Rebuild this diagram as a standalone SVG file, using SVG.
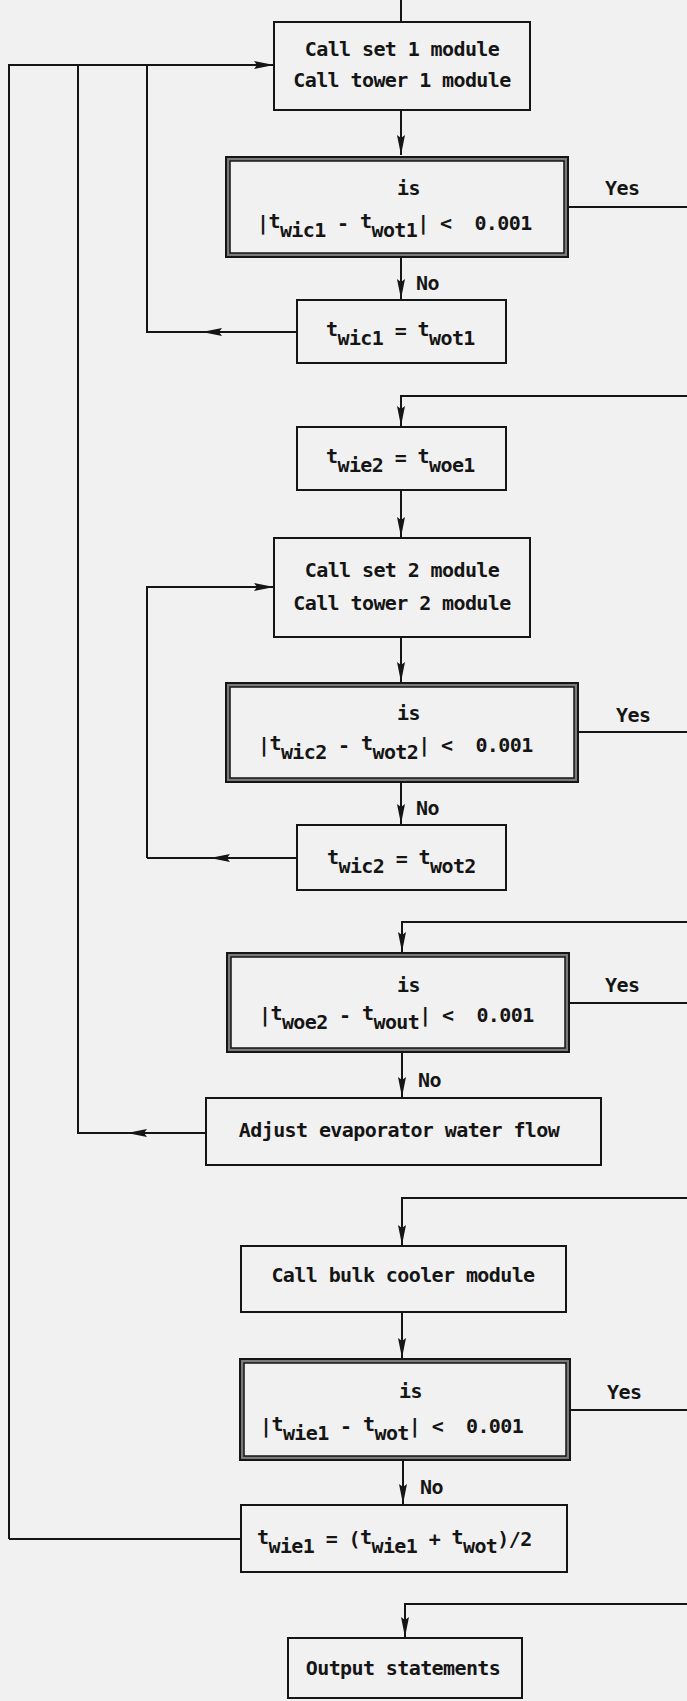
<svg xmlns="http://www.w3.org/2000/svg" width="687" height="1701" viewBox="0 0 687 1701">
<style>
.bg{fill:#f1f1f1}
.box{fill:none;stroke:#151515;stroke-width:2}
.dout{fill:#7a7a7a;stroke:#151515;stroke-width:2}
.din{fill:#f1f1f1;stroke:#151515;stroke-width:1.5}
.ln{fill:none;stroke:#151515;stroke-width:2}
.arr{fill:none;stroke:#151515;stroke-width:2;marker-end:url(#ah)}
text{font-family:"DejaVu Sans Mono","Liberation Mono",monospace;font-weight:bold;font-size:20px;letter-spacing:-0.6px;fill:#151515;white-space:pre}
.c{text-anchor:middle}
</style>
<defs>
<marker id="ah" markerUnits="userSpaceOnUse" markerWidth="20" markerHeight="8" refX="20" refY="4" orient="auto" viewBox="0 0 20 8">
<path d="M0,0 L20,4 L0,8 L3,4 z" fill="#151515"/>
</marker>
</defs>
<rect class="bg" x="0" y="0" width="687" height="1701"/>

<g id="connectors">
<path class="ln" d="M401,0 V22"/>
<path class="arr" d="M9,1539 V65 H274"/>
<path class="arr" d="M401,110 V155"/>
<path class="ln" d="M568,207 H687"/>
<path class="arr" d="M401,257 V299"/>
<path class="arr" d="M297,332 H202"/>
<path class="ln" d="M204,332 H147 V65"/>
<path class="arr" d="M687,396 H401 V426"/>
<path class="arr" d="M401,490 V537"/>
<path class="arr" d="M147,858 V587 H274"/>
<path class="arr" d="M297,858 H210"/>
<path class="ln" d="M212,858 H147"/>
<path class="arr" d="M401,637 V682"/>
<path class="ln" d="M578,732 H687"/>
<path class="arr" d="M401,782 V824"/>
<path class="arr" d="M687,922 H402 V952"/>
<path class="ln" d="M569,1003 H687"/>
<path class="arr" d="M402,1052 V1097"/>
<path class="arr" d="M206,1133 H127"/>
<path class="ln" d="M130,1133 H78 V65"/>
<path class="arr" d="M687,1198 H402 V1245"/>
<path class="arr" d="M402,1312 V1358"/>
<path class="ln" d="M570,1410 H687"/>
<path class="arr" d="M403,1460 V1504"/>
<path class="ln" d="M241,1539 H9"/>
<path class="arr" d="M687,1604 H405 V1637"/>
</g>

<g id="n_set1">
<rect class="box" x="274" y="22" width="256" height="88"/>
<text class="c" x="402" y="56">Call set 1 module</text>
<text class="c" x="402" y="87">Call tower 1 module</text>
</g>

<g id="n_dec1">
<rect class="dout" x="226" y="157" width="342" height="100"/>
<rect class="din" x="230" y="161" width="334" height="92"/>
<text x="397" y="195">is</text>
<text x="257" y="230">|<tspan dy="-2">t</tspan><tspan dy="9">wic1</tspan><tspan dy="-7"> - </tspan><tspan dy="-2">t</tspan><tspan dy="9">wot1</tspan><tspan dy="-7">| &lt;  0.001</tspan></text>
<text x="605" y="195">Yes</text>
<text x="416" y="290">No</text>
</g>

<g id="n_assign1">
<rect class="box" x="297" y="300" width="209" height="63"/>
<text x="326" y="336">t<tspan dy="9">wic1</tspan><tspan dy="-7"> = </tspan><tspan dy="-2">t</tspan><tspan dy="9">wot1</tspan></text>
</g>

<g id="n_assign2">
<rect class="box" x="297" y="427" width="209" height="63"/>
<text x="326" y="463">t<tspan dy="9">wie2</tspan><tspan dy="-7"> = </tspan><tspan dy="-2">t</tspan><tspan dy="9">woe1</tspan></text>
</g>

<g id="n_set2">
<rect class="box" x="274" y="538" width="256" height="99"/>
<text class="c" x="402" y="577">Call set 2 module</text>
<text class="c" x="402" y="610">Call tower 2 module</text>
</g>

<g id="n_dec2">
<rect class="dout" x="226" y="683" width="352" height="99"/>
<rect class="din" x="230" y="687" width="344" height="91"/>
<text x="397" y="720">is</text>
<text x="258" y="752">|<tspan dy="-2">t</tspan><tspan dy="9">wic2</tspan><tspan dy="-7"> - </tspan><tspan dy="-2">t</tspan><tspan dy="9">wot2</tspan><tspan dy="-7">| &lt;  0.001</tspan></text>
<text x="616" y="722">Yes</text>
<text x="416" y="815">No</text>
</g>

<g id="n_assign3">
<rect class="box" x="297" y="825" width="209" height="65"/>
<text x="327" y="864">t<tspan dy="9">wic2</tspan><tspan dy="-7"> = </tspan><tspan dy="-2">t</tspan><tspan dy="9">wot2</tspan></text>
</g>

<g id="n_dec3">
<rect class="dout" x="227" y="953" width="342" height="99"/>
<rect class="din" x="231" y="957" width="334" height="91"/>
<text x="397" y="992">is</text>
<text x="259" y="1022">|<tspan dy="-2">t</tspan><tspan dy="9">woe2</tspan><tspan dy="-7"> - </tspan><tspan dy="-2">t</tspan><tspan dy="9">wout</tspan><tspan dy="-7">| &lt;  0.001</tspan></text>
<text x="605" y="992">Yes</text>
<text x="418" y="1087">No</text>
</g>

<g id="n_adjust">
<rect class="box" x="206" y="1098" width="395" height="67"/>
<text class="c" x="399" y="1137">Adjust evaporator water flow</text>
</g>

<g id="n_bulk">
<rect class="box" x="241" y="1246" width="325" height="66"/>
<text class="c" x="403" y="1282">Call bulk cooler module</text>
</g>

<g id="n_dec4">
<rect class="dout" x="240" y="1359" width="330" height="101"/>
<rect class="din" x="244" y="1363" width="322" height="93"/>
<text x="399" y="1398">is</text>
<text x="260" y="1433">|<tspan dy="-2">t</tspan><tspan dy="9">wie1</tspan><tspan dy="-7"> - </tspan><tspan dy="-2">t</tspan><tspan dy="9">wot</tspan><tspan dy="-7">| &lt;  0.001</tspan></text>
<text x="607" y="1399">Yes</text>
<text x="420" y="1494">No</text>
</g>

<g id="n_assign4">
<rect class="box" x="241" y="1505" width="326" height="67"/>
<text x="257" y="1544">t<tspan dy="9">wie1</tspan><tspan dy="-7"> = (</tspan><tspan dy="-2">t</tspan><tspan dy="9">wie1</tspan><tspan dy="-7"> + </tspan><tspan dy="-2">t</tspan><tspan dy="9">wot</tspan><tspan dy="-7">)/2</tspan></text>
</g>

<g id="n_output">
<rect class="box" x="288" y="1638" width="234" height="60"/>
<text class="c" x="403" y="1675">Output statements</text>
</g>
</svg>
